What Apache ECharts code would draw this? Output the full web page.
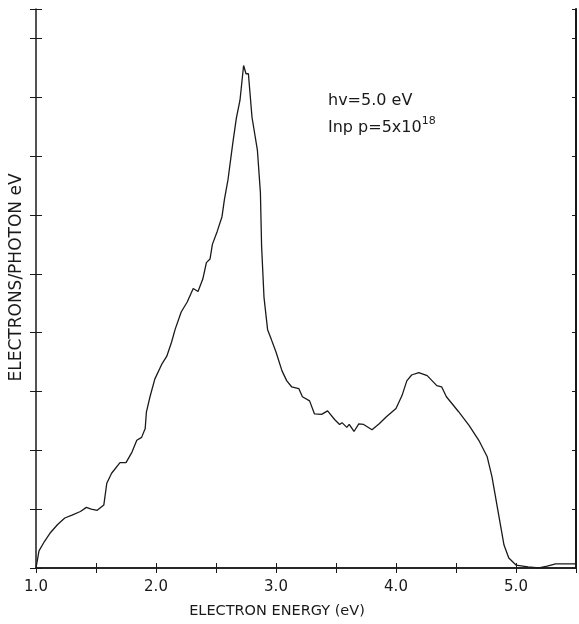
<!DOCTYPE html>
<html>
<head>
<meta charset="utf-8">
<script src="https://cdn.jsdelivr.net/npm/echarts@6/dist/echarts.min.js"></script>
<style>html,body{margin:0;padding:0;background:#fff;}#chart{width:579px;height:624px;}</style>
</head>
<body>
<div id="chart"></div>
<script>
// Electron energy (eV)
const energy = [1.00,1.025,1.07,1.116,1.18,1.24,1.30,1.37,1.42,1.46,1.51,1.565,1.59,1.63,1.70,1.75,1.80,1.84,1.88,1.91,1.92,1.95,1.99,2.05,2.09,2.13,2.16,2.21,2.26,2.31,2.35,2.39,2.42,2.45,2.47,2.51,2.55,2.57,2.60,2.64,2.67,2.70,2.73,2.75,2.77,2.80,2.845,2.87,2.88,2.90,2.93,2.96,3.00,3.05,3.09,3.13,3.19,3.22,3.28,3.32,3.38,3.43,3.49,3.53,3.55,3.59,3.61,3.65,3.69,3.73,3.80,3.86,3.92,4.00,4.05,4.09,4.13,4.19,4.26,4.34,4.38,4.42,4.52,4.61,4.69,4.76,4.80,4.86,4.90,4.94,5.00,5.10,5.19,5.26,5.33,5.50];
// Electrons / photon eV (arbitrary units, one unit per left-axis tick)
const yieldVals = [0.00,0.29,0.45,0.59,0.74,0.85,0.90,0.96,1.03,1.00,0.98,1.07,1.44,1.61,1.79,1.79,1.97,2.17,2.22,2.37,2.65,2.91,3.21,3.47,3.60,3.84,4.06,4.35,4.52,4.75,4.70,4.91,5.19,5.25,5.50,5.72,5.97,6.26,6.60,7.22,7.65,7.95,8.54,8.40,8.40,7.66,7.10,6.38,5.47,4.60,4.05,3.89,3.67,3.35,3.18,3.08,3.05,2.91,2.84,2.62,2.61,2.67,2.52,2.44,2.47,2.39,2.44,2.32,2.45,2.44,2.35,2.45,2.57,2.71,2.93,3.18,3.28,3.32,3.27,3.10,3.08,2.91,2.66,2.42,2.17,1.89,1.55,0.85,0.39,0.17,0.05,0.02,0.00,0.03,0.07,0.07];
const xLabels = ['1.0','2.0','3.0','4.0','5.0'];
const annotation1 = 'hv=5.0 eV';
const annotation2 = 'Inp p=5x10';
const annotationSup = '18';

const FONT = 'DejaVu Sans';
const INK = '#1a1a1a';
const chart = echarts.init(document.getElementById('chart'));
const pts = energy.map((x, i) => [x, yieldVals[i]]);
const lineStyleAxis = { color: INK, width: 1.5 };
const baseX = { type: 'value', min: 1, max: 5.5, interval: 0.5, splitLine: { show: false } };
const baseY = { type: 'value', min: 0, max: 9.5, interval: 1, splitLine: { show: false } };

chart.setOption({
  animation: false,
  backgroundColor: '#fff',
  grid: { left: 36, right: 2, top: 9, bottom: 54 },
  xAxis: [
    Object.assign({}, baseX, {
      position: 'bottom',
      axisLine: { lineStyle: lineStyleAxis },
      axisTick: { inside: false, length: 5, lineStyle: { color: INK, width: 1 } },
      axisLabel: {
        margin: 12, fontFamily: FONT, fontSize: 15, color: INK,
        formatter: v => { const s = v.toFixed(1); return xLabels.indexOf(s) >= 0 ? s : ''; }
      },
      name: 'ELECTRON ENERGY (eV)', nameLocation: 'middle', nameGap: 36,
      nameTextStyle: { fontFamily: FONT, fontSize: 14.5, color: INK, padding: [0, 58, 0, 0] }
    }),
    Object.assign({}, baseX, {
      position: 'bottom',
      axisLine: { show: false },
      axisTick: { inside: true, length: 5, lineStyle: { color: INK, width: 1 } },
      axisLabel: { show: false }
    }),
    Object.assign({}, baseX, {
      position: 'top',
      axisLine: { lineStyle: lineStyleAxis },
      axisTick: { inside: true, length: 4, lineStyle: { color: INK, width: 1 } },
      axisLabel: { show: false }
    })
  ],
  yAxis: [
    Object.assign({}, baseY, {
      position: 'left',
      axisLine: { lineStyle: lineStyleAxis },
      axisTick: { inside: false, length: 6, lineStyle: { color: INK, width: 1 } },
      axisLabel: { show: false },
      name: 'ELECTRONS/PHOTON eV', nameLocation: 'middle', nameGap: 11,
      nameTextStyle: { fontFamily: FONT, fontSize: 17, color: INK, padding: [0, 0, 0, 22] }
    }),
    Object.assign({}, baseY, {
      position: 'left',
      axisLine: { show: false },
      axisTick: { inside: true, length: 6, lineStyle: { color: INK, width: 1 } },
      axisLabel: { show: false }
    }),
    Object.assign({}, baseY, {
      position: 'right',
      axisLine: { lineStyle: { color: INK, width: 2 } },
      axisTick: { inside: true, length: 4, lineStyle: { color: INK, width: 1 } },
      axisLabel: { show: false }
    })
  ],
  series: [{
    type: 'line',
    data: pts,
    xAxisIndex: 0, yAxisIndex: 0,
    showSymbol: false,
    smooth: false,
    lineStyle: { color: INK, width: 1.3 },
    silent: true
  }],
  graphic: [
    { type: 'text', left: 328, top: 93,
      style: { text: annotation1, font: '16px "DejaVu Sans"', fill: INK } },
    { type: 'text', left: 328, top: 116,
      style: { text: '{a|' + annotation2 + '}{s|' + annotationSup + '}', fill: INK,
        rich: { a: { fontFamily: FONT, fontSize: 16, verticalAlign: 'bottom' },
                s: { fontFamily: FONT, fontSize: 11, verticalAlign: 'top', padding: [0,0,9,0] } } } }
  ]
});
</script>
</body>
</html>
